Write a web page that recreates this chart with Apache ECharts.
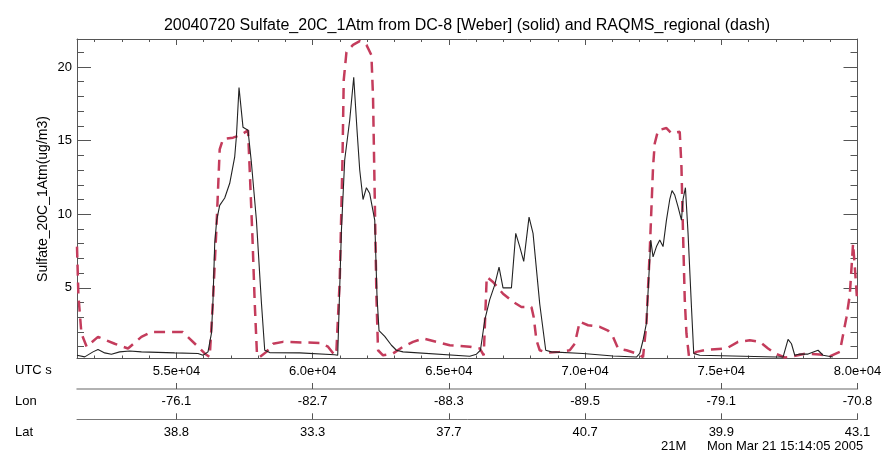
<!DOCTYPE html>
<html><head><meta charset="utf-8">
<script src="https://cdn.jsdelivr.net/npm/echarts@6/dist/echarts.min.js"></script>
<style>html,body{margin:0;padding:0;background:#fff}#c{width:895px;height:452px}</style>
</head><body><div id="c"></div>
<script>
const utcTicks = [55000, 60000, 65000, 70000, 75000, 80000];
const utcLabels = ['5.5e+04', '6.0e+04', '6.5e+04', '7.0e+04', '7.5e+04', '8.0e+04'];
const utcMinor = [52000, 53000, 54000, 56000, 57000, 58000, 59000, 61000, 62000, 63000, 64000,
  66000, 67000, 68000, 69000, 71000, 72000, 73000, 74000, 76000, 77000, 78000, 79000];
const lonLabels = ['-76.1', '-82.7', '-88.3', '-89.5', '-79.1', '-70.8'];
const latLabels = ['38.8', '33.3', '37.7', '40.7', '39.9', '43.1'];
const yTicks = [5, 10, 15, 20];
const yMinor = [1, 2, 3, 4, 6, 7, 8, 9, 11, 12, 13, 14, 16, 17, 18, 19, 21];

// DC-8 [Weber] observations (solid)
const obsTime = [51350, 51633, 51937, 52121, 52367, 52613, 52917, 53285, 53714, 54937, 55792, 55975, 56159, 56284, 56343, 56405, 56478, 56588, 56772, 56956,
  57139, 57202, 57297, 57444, 57627, 57752, 57936, 58119, 58241, 58424, 59525, 60810, 60920, 61056, 61177, 61361, 61508, 61629, 61728, 61849,
  61974, 62095, 62279, 62363, 62436, 62646, 62892, 63075, 63317, 65766, 66012, 66159, 66317, 66500, 66684, 66842, 66988, 67297, 67455, 67601,
  67748, 67943, 68090, 68336, 68556, 68765, 69925, 71027, 71886, 72007, 72128, 72253, 72348, 72411, 72495, 72620, 72741, 72862, 72987, 73108,
  73192, 73292, 73413, 73538, 73596, 73684, 73780, 73905, 73989, 74209, 77025, 77267, 77451, 77576, 77697, 77880, 78185, 78552, 78736, 79092];
const obsVal = [0.42, 0.31, 0.65, 0.81, 0.58, 0.49, 0.65, 0.71, 0.65, 0.58, 0.54, 0.42, 0.65, 1.9, 4.2, 8.0, 9.6, 10.6, 11.1, 12.1,
  13.9, 15.3, 18.6, 15.9, 15.7, 13.5, 9.6, 4.0, 0.76, 0.6, 0.58, 0.45, 0.42, 8.9, 13.7, 16.4, 19.3, 15.7, 13.0, 11.0,
  11.8, 11.4, 9.6, 4.4, 2.1, 1.7, 1.1, 0.76, 0.65, 0.35, 0.49, 0.76, 2.8, 4.2, 5.2, 6.4, 5.0, 5.0, 8.7, 7.8,
  6.8, 9.8, 8.7, 3.9, 0.76, 0.65, 0.54, 0.37, 0.3, 0.54, 1.44, 2.6, 6.0, 8.25, 7.1, 7.8, 8.25, 7.8, 9.6, 11.0,
  11.6, 11.3, 10.5, 9.6, 11.0, 11.8, 8.7, 3.7, 0.54, 0.42, 0.3, 0.3, 1.5, 1.2, 0.42, 0.5, 0.5, 0.76, 0.42, 0.3];

// RAQMS_regional model (dash)
const modTime = [51350, 51401, 51512, 51706, 52121, 52734, 53222, 53714, 54081, 55230, 55792, 56038, 56221, 56343, 56467, 56588, 56710, 57077, 57385, 57627,
  57690, 57789, 57873, 57958, 58057, 58303, 58545, 58912, 60260, 60564, 60810, 60873, 60994, 61093, 61141, 61240, 61482, 61728, 61974, 62157,
  62216, 62279, 62341, 62400, 62583, 62950, 63317, 63685, 64052, 64544, 65032, 65766, 66133, 66280, 66390, 66621, 66988, 67356, 67664, 68031,
  68115, 68215, 68336, 68582, 69070, 69437, 69621, 69804, 70109, 70538, 70843, 71027, 71210, 71518, 71886, 72128, 72253, 72374, 72495, 72557,
  72679, 72987, 73170, 73475, 73538, 73596, 73659, 73721, 73817, 74088, 74455, 75189, 75615, 76045, 76412, 76717, 77025, 77330, 77634, 78127,
  78615, 78982, 79349, 79595, 79716, 79837, 79918, 79991];
const modVal = [7.8, 4.5, 1.9, 1.0, 1.67, 1.2, 0.88, 1.67, 2.0, 2.0, 1.0, 0.54, 0.3, 4.2, 9.0, 14.4, 15.1, 15.2, 15.4, 15.7,
  13.0, 8.5, 4.0, 0.42, 0.3, 0.65, 1.2, 1.33, 1.26, 1.0, 0.42, 0.76, 5.5, 13.5, 19.1, 21.0, 21.5, 21.75, 21.5, 20.8,
  18.0, 11.2, 4.4, 0.76, 0.42, 0.54, 1.0, 1.33, 1.56, 1.33, 1.1, 1.0, 0.88, 0.42, 5.75, 5.4, 4.6, 4.05, 3.7, 3.7,
  3.0, 1.44, 0.76, 0.6, 0.65, 0.76, 1.2, 2.7, 2.46, 2.35, 2.1, 1.67, 0.88, 0.76, 0.54, 0.3, 2.6, 7.5, 13.2, 14.8,
  15.7, 15.85, 15.5, 15.6, 13.2, 8.7, 4.2, 1.9, 0.3, 0.65, 0.8, 0.88, 1.33, 1.44, 1.33, 0.88, 0.5, 0.27, 0.35, 0.54,
  0.47, 0.35, 0.65, 3.0, 4.5, 8.0, 6.0, 4.0];

const XMIN = 51350, XMAX = 80000, YMIN = 0.2, YMAX = 21.9;
const FONT = 'Liberation Sans';
const AX = '#555';
const GL = 77, GR = 37.5, GT = 39, GB = 93.5;

const chart = echarts.init(document.getElementById('c'), null, {renderer: 'canvas'});

function xAx(grid, pos, ticks, len, opts) {
  return Object.assign({
    gridIndex: grid, type: 'value', min: XMIN, max: XMAX, position: pos,
    axisLine: {show: true, onZero: false, lineStyle: {color: AX, width: 1}},
    axisTick: {show: true, inside: true, length: len, customValues: ticks, lineStyle: {color: AX, width: 1}},
    axisLabel: {show: false},
    splitLine: {show: false}
  }, opts || {});
}
function yAx(grid, pos, ticks, len, opts) {
  return Object.assign({
    gridIndex: grid, type: 'value', min: YMIN, max: YMAX, position: pos,
    axisLine: {show: true, onZero: false, lineStyle: {color: AX, width: 1}},
    axisTick: {show: true, inside: true, length: len, customValues: ticks, lineStyle: {color: AX, width: 1}},
    axisLabel: {show: false},
    splitLine: {show: false}
  }, opts || {});
}
const lbl = (arr, margin) => ({
  show: true, customValues: utcTicks, margin: margin,
  formatter: v => arr[utcTicks.indexOf(v)] || '',
  color: '#000', fontSize: 13, fontFamily: FONT
});

chart.setOption({
  animation: false,
  backgroundColor: '#fff',
  grid: [
    {left: GL, right: GR, top: GT, bottom: GB},
    {left: GL, right: GR, top: GT, bottom: GB},
    {left: GL, right: GR, top: 380, height: 9},
    {left: GL, right: GR, top: 410.3, height: 9}
  ],
  xAxis: [
    xAx(0, 'bottom', utcTicks, 6, {axisLabel: lbl(utcLabels, 6)}),
    xAx(0, 'top', utcTicks, 6),
    xAx(1, 'bottom', utcMinor, 3, {axisLine: {show: false}}),
    xAx(1, 'top', utcMinor, 3, {axisLine: {show: false}}),
    xAx(2, 'bottom', utcTicks, 6, {axisLine: {show: true, onZero: false, lineStyle: {color: '#999', width: 1.5}},
      axisTick: {show: true, inside: true, length: 6, customValues: utcTicks, lineStyle: {color: '#555', width: 1}},
      axisLabel: lbl(lonLabels, 6)}),
    xAx(3, 'bottom', utcTicks, 6, {axisLine: {show: true, onZero: false, lineStyle: {color: '#777', width: 1}},
      axisTick: {show: true, inside: true, length: 6, customValues: utcTicks, lineStyle: {color: '#555', width: 1}},
      axisLabel: lbl(latLabels, 7)})
  ],
  yAxis: [
    yAx(0, 'left', yTicks, 14, {axisLabel: {show: true, customValues: yTicks, margin: 5, color: '#000', fontSize: 13, fontFamily: FONT}}),
    yAx(0, 'right', yTicks, 14),
    yAx(1, 'left', yMinor, 7, {axisLine: {show: false}}),
    yAx(1, 'right', yMinor, 7, {axisLine: {show: false}}),
    {gridIndex: 2, type: 'value', min: 0, max: 1, show: false},
    {gridIndex: 3, type: 'value', min: 0, max: 1, show: false}
  ],
  series: [
    {
      type: 'line', xAxisIndex: 0, yAxisIndex: 0, showSymbol: false, symbol: 'none',
      data: obsTime.map((t, i) => [t, obsVal[i]]),
      lineStyle: {color: '#222', width: 1.1},
      z: 3
    },
    {
      type: 'line', xAxisIndex: 0, yAxisIndex: 0, showSymbol: false, symbol: 'none',
      data: modTime.map((t, i) => [t, modVal[i]]),
      lineStyle: {color: '#C43C5C', width: 2.5, type: [11, 7], cap: 'butt'},
      z: 2
    }
  ],
  graphic: [
    {type: 'text', x: 467, y: 26, style: {text: '20040720 Sulfate_20C_1Atm from DC-8 [Weber] (solid) and RAQMS_regional (dash)',
      font: '16px "Liberation Sans"', fill: '#000', align: 'center', verticalAlign: 'middle'}},
    {type: 'text', x: 43, y: 199, rotation: Math.PI / 2, style: {text: 'Sulfate_20C_1Atm(ug/m3)',
      font: '14px "Liberation Sans"', fill: '#000', align: 'center', verticalAlign: 'middle'}},
    {type: 'text', x: 15, y: 370, style: {text: 'UTC s', font: '13px "Liberation Sans"', fill: '#000', align: 'left', verticalAlign: 'middle'}},
    {type: 'text', x: 15, y: 401, style: {text: 'Lon', font: '13px "Liberation Sans"', fill: '#000', align: 'left', verticalAlign: 'middle'}},
    {type: 'text', x: 15, y: 432, style: {text: 'Lat', font: '13px "Liberation Sans"', fill: '#000', align: 'left', verticalAlign: 'middle'}},
    {type: 'text', x: 661, y: 446, style: {text: '21M', font: '13px "Liberation Sans"', fill: '#000', align: 'left', verticalAlign: 'middle'}},
    {type: 'text', x: 707, y: 446, style: {text: 'Mon Mar 21 15:14:05 2005', font: '13px "Liberation Sans"', fill: '#000', align: 'left', verticalAlign: 'middle'}}
  ]
});
</script></body></html>
